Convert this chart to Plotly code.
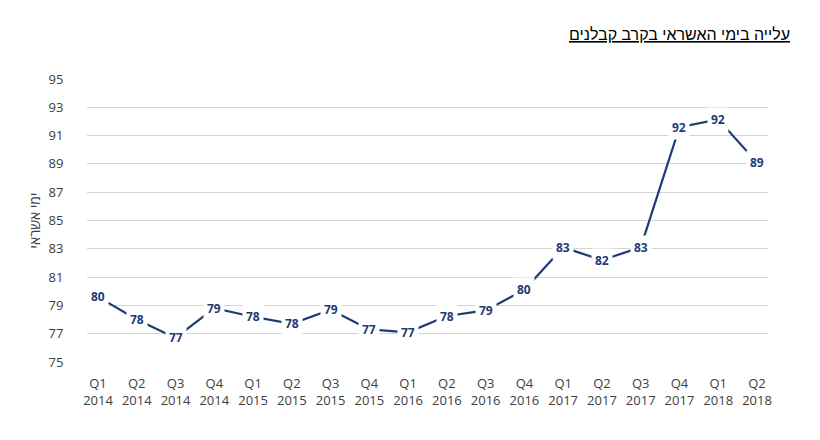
import plotly.graph_objects as go

# quarters on the x axis
quarters = ["Q1", "Q2", "Q3", "Q4", "Q1", "Q2", "Q3", "Q4", "Q1",
            "Q2", "Q3", "Q4", "Q1", "Q2", "Q3", "Q4", "Q1", "Q2"]
years = ["2014", "2014", "2014", "2014", "2015", "2015", "2015", "2015", "2016",
         "2016", "2016", "2016", "2017", "2017", "2017", "2017", "2018", "2018"]

# credit days per quarter
credit_days = [79.6, 78.0, 76.7, 78.8, 78.2, 77.7, 78.7, 77.3, 77.1,
               78.25, 78.65, 80.1, 83.1, 82.2, 83.1, 91.6, 92.15, 89.1]

y_ticks = list(range(75, 96, 2))

title_text = "עלייה בימי האשראי בקרב קבלנים"
y_title = "ימי אשראי"

line_color = "#1F3B73"
label_font = "Open Sans"

categories = [f"{q}<br>{y}" for q, y in zip(quarters, years)]

fig = go.Figure()

fig.add_trace(go.Scatter(
    x=categories,
    y=credit_days,
    mode="lines",
    line=dict(color=line_color, width=2.2),
    showlegend=False,
    hoverinfo="skip",
))

# data labels with white boxes, like the Excel original
for cat, val in zip(categories, credit_days):
    fig.add_annotation(
        x=cat, y=val,
        text=f"<b>{round(val)}</b>",
        showarrow=False,
        font=dict(family=label_font, size=12, color=line_color),
        bgcolor="white",
        borderpad=3,
    )

fig.add_annotation(
    x=1.035, xref="paper", xanchor="right",
    y=1.159, yref="paper", yanchor="middle",
    text=f"<u>{title_text}</u>",
    showarrow=False,
    font=dict(family="Liberation Sans", size=16, color="black"),
)

fig.update_layout(
    width=804,
    height=424,
    margin=dict(l=79, r=44, t=71, b=70),
    paper_bgcolor="white",
    plot_bgcolor="white",
    font=dict(family=label_font, color="#404040"),
    xaxis=dict(
        type="category",
        showgrid=False,
        showline=False,
        tickfont=dict(size=13, color="#404040"),
        ticks="outside",
        ticklen=9,
        tickcolor="rgba(0,0,0,0)",
    ),
    yaxis=dict(
        range=[75, 95],
        tickvals=y_ticks,
        showgrid=True,
        gridcolor="#D4D4D4",
        gridwidth=1.3,
        zeroline=False,
        showline=False,
        tickfont=dict(size=13, color="#404040"),
        ticks="outside",
        ticklen=20,
        tickcolor="rgba(0,0,0,0)",
        title=dict(text=y_title, font=dict(size=14, color="#404040"), standoff=4),
    ),
)

fig.write_html("out.html")
